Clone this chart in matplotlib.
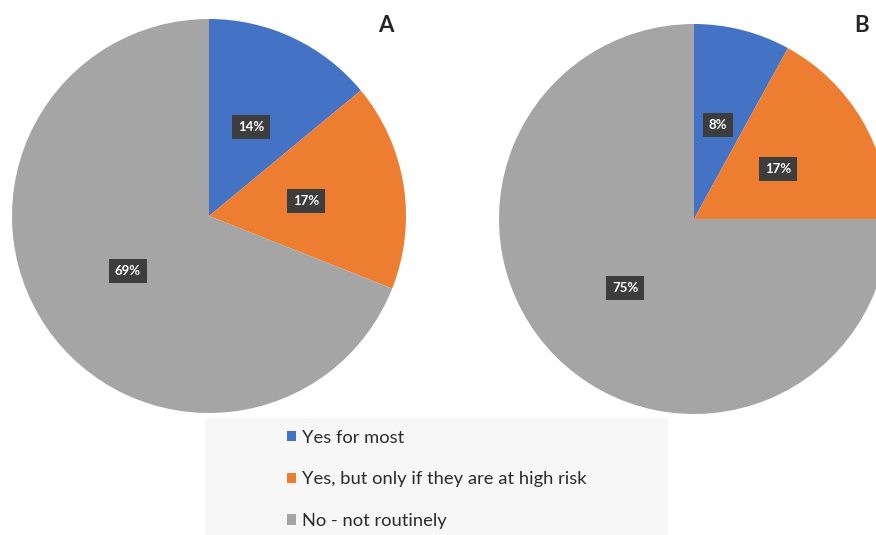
import matplotlib
matplotlib.use("Agg")
import matplotlib.pyplot as plt

categories = ["Yes for most", "Yes, but only if they are at high risk", "No - not routinely"]
values_a = [14, 17, 69]
values_b = [8, 17, 75]
panel_titles = ["A", "B"]
colors = ["#4472C4", "#ED7D31", "#A5A5A5"]

W, H = 876, 535
fig = plt.figure(figsize=(W / 100, H / 100), dpi=100)
plt.rcParams["font.family"] = ["Lato", "DejaVu Sans"]


def px_axes(x0, y0, x1, y1):
    # pixel box (top-left origin) -> figure axes
    return fig.add_axes([x0 / W, 1 - y1 / H, (x1 - x0) / W, (y1 - y0) / H])


def draw_pie(ax, vals, title, tx):
    wedges, _, autotexts = ax.pie(
        vals, colors=colors, startangle=90, counterclock=False,
        autopct=lambda p: f"{p:.0f}%", pctdistance=0.5,
        wedgeprops=dict(linewidth=0),
    )
    for t in autotexts:
        t.set_color("white")
        t.set_fontsize(9.5)
        t.set_fontweight("bold")
        t.set_bbox(dict(boxstyle="square,pad=0.45", facecolor="#3d3d3d", edgecolor="none"))
    ax.set_xlim(-1, 1)
    ax.set_ylim(-1, 1)
    ax.set_aspect("equal")
    fig.text(tx / W, 1 - 25 / H, title, fontsize=16, fontweight="bold",
             color="#262626", ha="center", va="center")
    return wedges


ax_a = px_axes(12, 19, 406, 413)
wedges = draw_pie(ax_a, values_a, panel_titles[0], 386)
ax_b = px_axes(499, 24, 889, 414)
draw_pie(ax_b, values_b, panel_titles[1], 862)

# legend panel
ax_leg = px_axes(205, 418, 668, 535)
ax_leg.set_facecolor("#f7f7f7")
ax_leg.set_xticks([])
ax_leg.set_yticks([])
for s in ax_leg.spines.values():
    s.set_visible(False)
ax_leg.legend(wedges, categories, loc="center", bbox_to_anchor=(0.5, 0.475),
              frameon=False, fontsize=13.2,
              labelspacing=1.4, handlelength=0.5, handleheight=0.5,
              handletextpad=0.3, labelcolor="#2b2b2b")

fig.savefig("out.png", dpi=100)
